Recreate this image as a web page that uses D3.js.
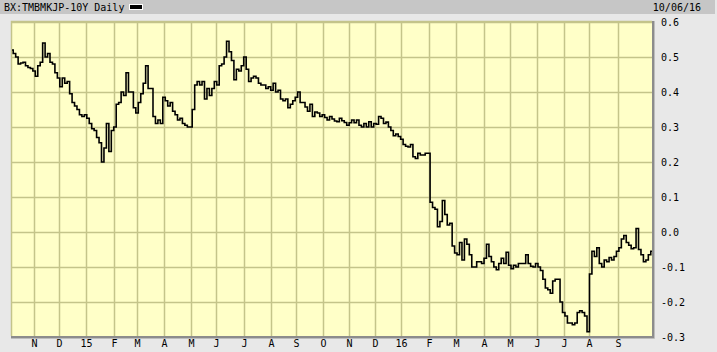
<!DOCTYPE html>
<html><head><meta charset="utf-8">
<script src="https://cdn.jsdelivr.net/npm/d3@7"></script>
<style>body{margin:0;background:#e8e8e8;overflow:hidden} svg{display:block}</style>
</head><body><svg id="c" width="717" height="352"></svg>
<script>
// ---- data ----
const titleText = "BX:TMBMKJP-10Y Daily";
const dateText = "10/06/16";
const yTicks = [0.6, 0.5, 0.4, 0.3, 0.2, 0.1, 0.0, -0.1, -0.2, -0.3];
const yTickLabels = ["0.6","0.5","0.4","0.3","0.2","0.1","0.0","-0.1","-0.2","-0.3"];
// trading-day index of each month start
const monthDays = [18,38,60,83,102,124,146,166,189,211,232,254,275,296,317,340,362,385,406,428,450,471,494];
const monthLabels = ["N","D","15","F","M","A","M","J","J","A","S","O","N","D","16","F","M","A","M","J","J","A","S"];
const totalDays = 522;
const dayStep = 2; // one value every 2 trading days
const yields = [
0.52,0.51,0.50,0.48,0.483,0.485,0.475,0.47,0.467,0.46,
0.445,0.475,0.485,0.54,0.50,0.51,0.485,0.48,0.455,0.44,
0.415,0.44,0.425,0.43,0.395,0.37,0.36,0.35,0.335,0.33,
0.335,0.325,0.31,0.295,0.29,0.27,0.255,0.20,0.24,0.31,
0.23,0.29,0.30,0.365,0.37,0.40,0.39,0.455,0.40,0.40,
0.355,0.34,0.37,0.395,0.425,0.475,0.41,0.41,0.33,0.31,
0.32,0.31,0.385,0.375,0.36,0.37,0.345,0.335,0.32,0.325,
0.31,0.305,0.30,0.30,0.35,0.42,0.43,0.42,0.43,0.38,
0.41,0.39,0.41,0.43,0.42,0.475,0.48,0.50,0.545,0.515,
0.49,0.435,0.465,0.46,0.475,0.50,0.465,0.43,0.44,0.445,
0.44,0.425,0.42,0.42,0.41,0.415,0.405,0.425,0.40,0.405,
0.38,0.375,0.38,0.355,0.365,0.375,0.385,0.40,0.37,0.37,
0.357,0.345,0.365,0.33,0.343,0.34,0.33,0.335,0.327,0.32,
0.33,0.323,0.317,0.315,0.325,0.318,0.313,0.305,0.312,0.32,
0.312,0.32,0.305,0.30,0.31,0.30,0.315,0.30,0.31,0.308,
0.33,0.325,0.31,0.314,0.30,0.29,0.275,0.28,0.273,0.265,
0.25,0.245,0.243,0.25,0.215,0.21,0.225,0.22,0.22,0.225,
0.225,0.085,0.07,0.065,0.015,0.03,0.09,0.05,0.02,0.025,
-0.04,-0.06,-0.065,-0.03,-0.08,-0.02,-0.035,-0.065,-0.10,-0.10,
-0.085,-0.085,-0.09,-0.075,-0.035,-0.07,-0.085,-0.10,-0.108,-0.09,
-0.075,-0.09,-0.058,-0.095,-0.105,-0.095,-0.10,-0.09,-0.09,-0.09,
-0.065,-0.09,-0.098,-0.10,-0.09,-0.10,-0.11,-0.135,-0.16,-0.165,
-0.175,-0.14,-0.135,-0.135,-0.20,-0.23,-0.24,-0.26,-0.26,-0.265,
-0.26,-0.23,-0.225,-0.23,-0.24,-0.285,-0.12,-0.055,-0.07,-0.045,
-0.09,-0.10,-0.08,-0.085,-0.073,-0.08,-0.07,-0.055,-0.045,-0.02,
-0.01,-0.03,-0.038,-0.048,-0.045,0.01,-0.05,-0.065,-0.085,-0.08,
-0.065,-0.055
];

// ---- drawing ----
const svg = d3.select("#c");
const W = 717, H = 352;
const plot = {left: 11, right: 652, top: 21, bottom: 336};
const font = "'DejaVu Sans Mono', monospace";

svg.append("rect").attr("width", W).attr("height", H).attr("fill", "#e8e8e8");
// title bar
svg.append("rect").attr("x", 0).attr("y", 0).attr("width", 715).attr("height", 14).attr("fill", "#c6c6c6");
svg.append("text").attr("x", 4).attr("y", 11).attr("font-family", font).attr("font-size", 10)
  .attr("fill", "#000").text(titleText);
svg.append("rect").attr("x", 129.5).attr("y", 4.5).attr("width", 13).attr("height", 5).attr("fill", "#000").attr("stroke", "#fff").attr("stroke-width", 1);
svg.append("text").attr("x", 701).attr("y", 11).attr("text-anchor", "end").attr("font-family", font).attr("font-size", 10)
  .attr("fill", "#000").text(dateText);

const x = d3.scaleLinear().domain([0, totalDays]).range([12, 652]);
const y = d3.scaleLinear().domain([-0.3, 0.6]).range([337, 22]);

// plot background
svg.append("rect").attr("x", plot.left).attr("y", plot.top)
  .attr("width", plot.right - plot.left).attr("height", plot.bottom - plot.top).attr("fill", "#ffffc8");

const grid = svg.append("g").attr("stroke", "#c4c48a").attr("stroke-width", 1.5);
grid.selectAll("line.h").data(yTicks).join("line")
  .attr("x1", plot.left).attr("x2", plot.right)
  .attr("y1", d => Math.round(y(d)) + 0.5).attr("y2", d => Math.round(y(d)) + 0.5);
grid.selectAll("line.v").data(monthDays).join("line")
  .attr("y1", plot.top).attr("y2", plot.bottom)
  .attr("x1", d => Math.round(x(d)) + 0.5).attr("x2", d => Math.round(x(d)) + 0.5);
// left & top border
svg.append("path").attr("d", `M${plot.left+0.5},${plot.bottom}V${plot.top+0.5}H${plot.right}`)
  .attr("fill", "none").attr("stroke", "#c4c48a").attr("stroke-width", 1.5);

// clip
svg.append("clipPath").attr("id", "pc").append("rect")
  .attr("x", plot.left).attr("y", plot.top).attr("width", plot.right - plot.left).attr("height", plot.bottom - plot.top);

const line = d3.line().x((d, i) => x(i * dayStep)).y(d => y(d)).curve(d3.curveStep);
svg.append("path").datum(yields).attr("clip-path", "url(#pc)")
  .attr("d", line).attr("fill", "none").attr("stroke", "#000").attr("stroke-width", 1.6);

// bottom & right borders
svg.append("path").attr("d", `M${plot.left},${plot.bottom+1}H${plot.right+1}V${plot.top}`)
  .attr("fill", "none").attr("stroke", "#8c8c8c").attr("stroke-width", 2);
svg.append("path").attr("d", `M${plot.left},${plot.bottom+2.5}H${plot.right+2.5}V${plot.top}`)
  .attr("fill", "none").attr("stroke", "#bdbdbd").attr("stroke-width", 1);

// y axis labels (right)
svg.append("g").selectAll("text").data(yTicks).join("text")
  .attr("x", 661).attr("y", d => y(d) + 4)
  .attr("font-family", font).attr("font-size", 10).attr("fill", "#000")
  .text((d, i) => yTickLabels[i]);

// x axis labels
svg.append("g").selectAll("text").data(monthDays).join("text")
  .attr("x", d => Math.round(x(d)) + 0.5).attr("y", 347).attr("text-anchor", "middle")
  .attr("font-family", font).attr("font-size", 10).attr("fill", "#000")
  .text((d, i) => monthLabels[i]);
</script>
</body></html>
